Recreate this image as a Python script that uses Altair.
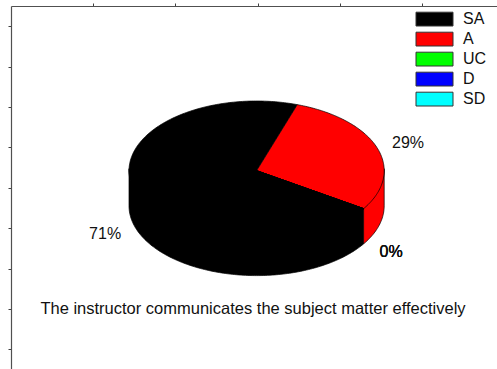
import altair as alt
import numpy as np
import pandas as pd

# ---- data ----
categories = ["SA", "A", "UC", "D", "SD"]
values = [71, 29, 0, 0, 0]
colors = ["#000000", "#FF0000", "#00FF00", "#0000FF", "#00FFFF"]
caption = "The instructor communicates the subject matter effectively"
x_tick_positions = [82.2, 164.4, 246.6, 328.8, 411.0]
y_tick_positions = [20.2, 40.4, 60.6, 80.8, 101.0, 121.2, 141.4, 161.6, 181.8,
                    202.0, 222.2, 242.4, 262.6, 282.8, 303.0, 323.2, 343.4]

# ---- layout / style constants (plot-area pixel units) ----
W, H = 486, 363
CX, CY, RA, RB, DEPTH = 245.6, 164.7, 127.6, 69.7, 35.2
START = 123.0          # first slice angle, degrees clockwise from 12 o'clock
LBL_RX, LBL_RY = 1.257, 1.21
FONT = "Liberation Sans"


def ell(t, dy=0.0):
    r = np.deg2rad(t)
    return CX + RA * np.sin(r), CY - RB * np.cos(r) + dy


total = float(sum(values))
tops, sides, labels = [], [], []
cum = 0.0
for i, (cat, v) in enumerate(zip(categories, values)):
    s = START + cum / total * 360.0
    e = START + (cum + v) / total * 360.0
    cum += v
    n = max(2, int(np.ceil(e - s)))
    ts = np.linspace(s, e, n + 1)
    pts = [(CX, CY)] + [ell(t) for t in ts] + [(CX, CY)]
    for k, (x, y) in enumerate(pts):
        tops.append({"cat": cat, "poly": f"t{i}", "ord": k, "x": x, "y": y})
    for w in (0, 1):
        lo, hi = max(s, 90 + 360 * w), min(e, 270 + 360 * w)
        if hi > lo:
            m = max(2, int(np.ceil(hi - lo)))
            ss = np.linspace(lo, hi, m + 1)
            # side wall tucked slightly under the top face to avoid a seam
            spts = [ell(t, -2.0) for t in ss] + [ell(t, DEPTH) for t in ss[::-1]] + [ell(ss[0], -2.0)]
            for k, (x, y) in enumerate(spts):
                sides.append({"cat": cat, "poly": f"s{i}{w}", "ord": k, "x": x, "y": y})
    mid = np.deg2rad((s + e) / 2.0)
    lx = CX + LBL_RX * RA * np.sin(mid)
    ly = CY - LBL_RY * RB * np.cos(mid) + (DEPTH if np.cos(mid) < 0 else 0.0)
    labels.append({"cat": cat, "pct": v / total, "x": lx, "y": ly})

tops_df = pd.DataFrame(tops)
sides_df = pd.DataFrame(sides)
labels_df = pd.DataFrame(labels)
legend_df = pd.DataFrame({
    "cat": categories,
    "y0": [6.2 + 20.0 * i for i in range(len(categories))],
})
legend_df["y1"] = legend_df["y0"] + 13.8
legend_df["ym"] = legend_df["y0"] + 6.9

xs = alt.Scale(domain=[0, W], nice=False, zero=False)
ys = alt.Scale(domain=[0, H], nice=False, zero=False, reverse=True)
fill_scale = alt.Scale(domain=categories, range=colors)

x_axis = alt.Axis(orient="top", values=x_tick_positions, labels=False, title=None,
                  grid=False, tickSize=3, tickWidth=1, domainColor="#505050",
                  tickColor="#404040", domainWidth=1.2)
y_axis = alt.Axis(orient="left", values=y_tick_positions, labels=False, title=None,
                  grid=False, tickSize=3, tickWidth=1, domainColor="#505050",
                  tickColor="#404040", domainWidth=1.2)

side_layer = alt.Chart(sides_df).mark_line(stroke="black", strokeWidth=0.7).encode(
    x=alt.X("x:Q", scale=xs, axis=x_axis),
    y=alt.Y("y:Q", scale=ys, axis=y_axis),
    fill=alt.Fill("cat:N", scale=fill_scale, legend=None),
    detail="poly:N",
    order="ord:Q",
)

top_layer = alt.Chart(tops_df).mark_line(stroke="black", strokeWidth=0.7).encode(
    x=alt.X("x:Q", scale=xs),
    y=alt.Y("y:Q", scale=ys),
    fill=alt.Fill("cat:N", scale=fill_scale, legend=None),
    detail="poly:N",
    order="ord:Q",
)

label_layer = alt.Chart(labels_df).mark_text(
    font=FONT, fontSize=16, color="#111111", align="center", baseline="middle"
).encode(
    x=alt.X("x:Q", scale=xs),
    y=alt.Y("y:Q", scale=ys),
    text=alt.Text("pct:Q", format=".0%"),
)

legend_rect = alt.Chart(legend_df).mark_rect(stroke="#333333", strokeWidth=1).encode(
    x=alt.value(405),
    x2=alt.value(442),
    y=alt.Y("y0:Q", scale=ys),
    y2="y1:Q",
    fill=alt.Fill("cat:N", scale=fill_scale, legend=None),
)

legend_text = alt.Chart(legend_df).mark_text(
    font=FONT, fontSize=16, color="#111111", align="left", baseline="middle"
).encode(
    x=alt.value(452),
    y=alt.Y("ym:Q", scale=ys),
    text="cat:N",
)

caption_layer = alt.Chart(pd.DataFrame({"t": [caption]})).mark_text(
    font=FONT, fontSize=16.5, color="#111111", align="center", baseline="middle"
).encode(
    x=alt.value(242),
    y=alt.value(303),
    text="t:N",
)

chart = alt.layer(
    side_layer, top_layer, label_layer, legend_rect, legend_text, caption_layer
).properties(
    width=W, height=H,
    autosize="none",
    padding={"left": 11, "top": 6, "right": 0, "bottom": 0},
    background="white",
).configure_view(stroke=None)

chart.save("out.html", embed_options={"renderer": "svg", "actions": False})
